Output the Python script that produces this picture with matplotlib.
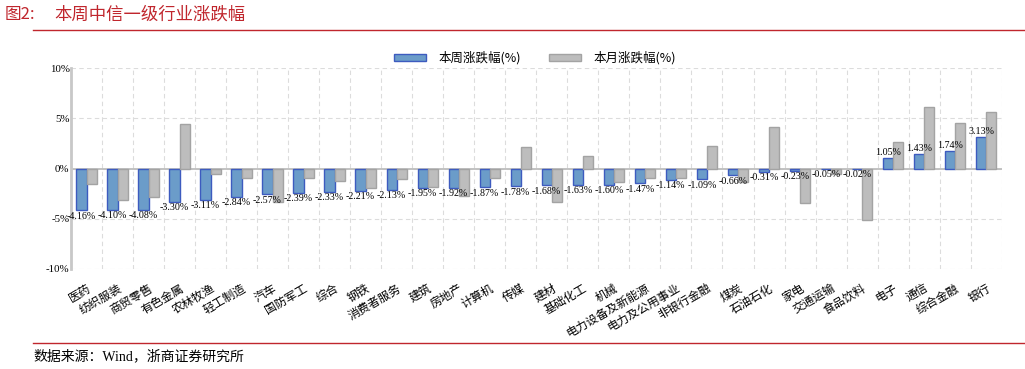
import matplotlib
matplotlib.use("Agg")
import matplotlib.pyplot as plt
import numpy as np
from matplotlib.patches import Patch
from matplotlib.lines import Line2D

categories = ["医药", "纺织服装", "商贸零售", "有色金属", "农林牧渔", "轻工制造", "汽车", "国防军工",
              "综合", "钢铁", "消费者服务", "建筑", "房地产", "计算机", "传媒", "建材", "基础化工",
              "机械", "电力设备及新能源", "电力及公用事业", "非银行金融", "煤炭", "石油石化", "家电",
              "交通运输", "食品饮料", "电子", "通信", "综合金融", "银行"]
week_change = [-4.16, -4.10, -4.08, -3.30, -3.11, -2.84, -2.57, -2.39, -2.33, -2.21, -2.13, -1.95,
               -1.92, -1.87, -1.78, -1.68, -1.63, -1.60, -1.47, -1.14, -1.09, -0.66, -0.31, -0.23,
               -0.05, -0.02, 1.05, 1.43, 1.74, 3.13]
month_change = [-1.5, -3.1, -2.85, 4.4, -0.5, -0.95, -3.35, -0.9, -1.2, -1.9, -1.0, -1.85,
                -2.7, -0.95, 2.1, -3.3, 1.2, -1.35, -0.95, -0.95, 2.2, -1.35, 4.15, -3.4,
                -0.5, -5.1, 2.65, 6.1, 4.55, 5.6]
yticks = [-10, -5, 0, 5, 10]
ytick_labels = ["-10%", "-5%", "0%", "5%", "10%"]
legend_labels = ["本周涨跌幅(%)", "本月涨跌幅(%)"]

W, H = 1025, 369
fig = plt.figure(figsize=(W / 100, H / 100), dpi=100)
fig.patch.set_facecolor("white")

cjk = ["Noto Sans CJK SC", "DejaVu Sans"]
serif = ["Liberation Serif", "DejaVu Serif"]
red = "#c0262d"

ax = fig.add_axes([71 / W, 1 - 269 / H, (1001.7 - 71) / W, (269 - 68) / H])
x = np.arange(len(categories))
bw = 0.33
blue_fill, blue_edge = "#6b9cc9", "#3d5bbf"
gray_fill, gray_edge = "#bdbdbd", "#a3a3a3"

ax.bar(x - bw / 2, week_change, bw, color=blue_fill, edgecolor=blue_edge, linewidth=1.0, zorder=3)
ax.bar(x + bw / 2, month_change, bw, color=gray_fill, edgecolor=gray_edge, linewidth=1.0, zorder=3)

for xi, v in zip(x, week_change):
    if v < 0:
        ax.annotate(f"{v:.2f}%", (xi - bw / 2, v), xytext=(0, -1), textcoords="offset points",
                    ha="center", va="top", fontsize=7.2, family=serif, zorder=4)
    else:
        ax.annotate(f"{v:.2f}%", (xi - bw / 2, v), xytext=(0, 1), textcoords="offset points",
                    ha="center", va="bottom", fontsize=7.2, family=serif, zorder=4)

ax.set_xlim(-0.5, len(categories) - 0.5)
ax.set_ylim(-10, 10)
ax.set_yticks(yticks)
ax.set_yticklabels(ytick_labels, family=serif, fontsize=7.8)
ax.tick_params(axis="y", length=0, pad=1)
ax.set_xticks(x)
ax.set_xticklabels(categories, rotation=30, ha="right", rotation_mode="anchor",
                   family=cjk, fontsize=8.5)
ax.tick_params(axis="x", length=0, pad=9)
ax.set_xticks(np.arange(-0.5, len(categories) + 0.5, 1), minor=True)
ax.tick_params(axis="x", which="minor", length=0)

ax.grid(True, axis="x", which="minor", linestyle=(0, (4, 3)), color="#dcdcdc", linewidth=0.8, zorder=0)
ax.grid(True, axis="y", which="major", linestyle=(0, (4, 3)), color="#dcdcdc", linewidth=0.8, zorder=0)
ax.axhline(0, color="#bdbdbd", linewidth=1.3, zorder=2)

for s in ["top", "right", "bottom"]:
    ax.spines[s].set_visible(False)
ax.spines["left"].set_color("#c8c8c8")
ax.spines["left"].set_linewidth(2)

handles = [Patch(facecolor=blue_fill, edgecolor=blue_edge, linewidth=1.0),
           Patch(facecolor=gray_fill, edgecolor=gray_edge, linewidth=1.0)]
fig.legend(handles, legend_labels, loc="center", bbox_to_anchor=(535 / W, 1 - 58 / H),
           ncol=2, frameon=False, prop={"family": cjk, "size": 9},
           handlelength=2.6, handleheight=0.5, columnspacing=2.2, handletextpad=1.0)

# Header / footer
fig.text(5 / W, 1 - 15 / H, "图2:", color=red, family=cjk, fontsize=12, va="center", ha="left")
fig.text(54 / W, 1 - 15 / H, "本周中信一级行业涨跌幅", color=red, family=cjk, fontsize=12.5,
         va="center", ha="left")
fig.add_artist(Line2D([33 / W, 1.0], [1 - 30 / H, 1 - 30 / H], color=red, linewidth=1.0))
fig.add_artist(Line2D([33 / W, 1.0], [1 - 343 / H, 1 - 343 / H], color=red, linewidth=1.0))
fig.text(33 / W, 1 - 356 / H, "数据来源：Wind，浙商证券研究所", color="black",
         family=["Liberation Serif", "Noto Sans CJK SC"], fontsize=10, va="center", ha="left")

fig.savefig("out.png", dpi=100, facecolor="white")
